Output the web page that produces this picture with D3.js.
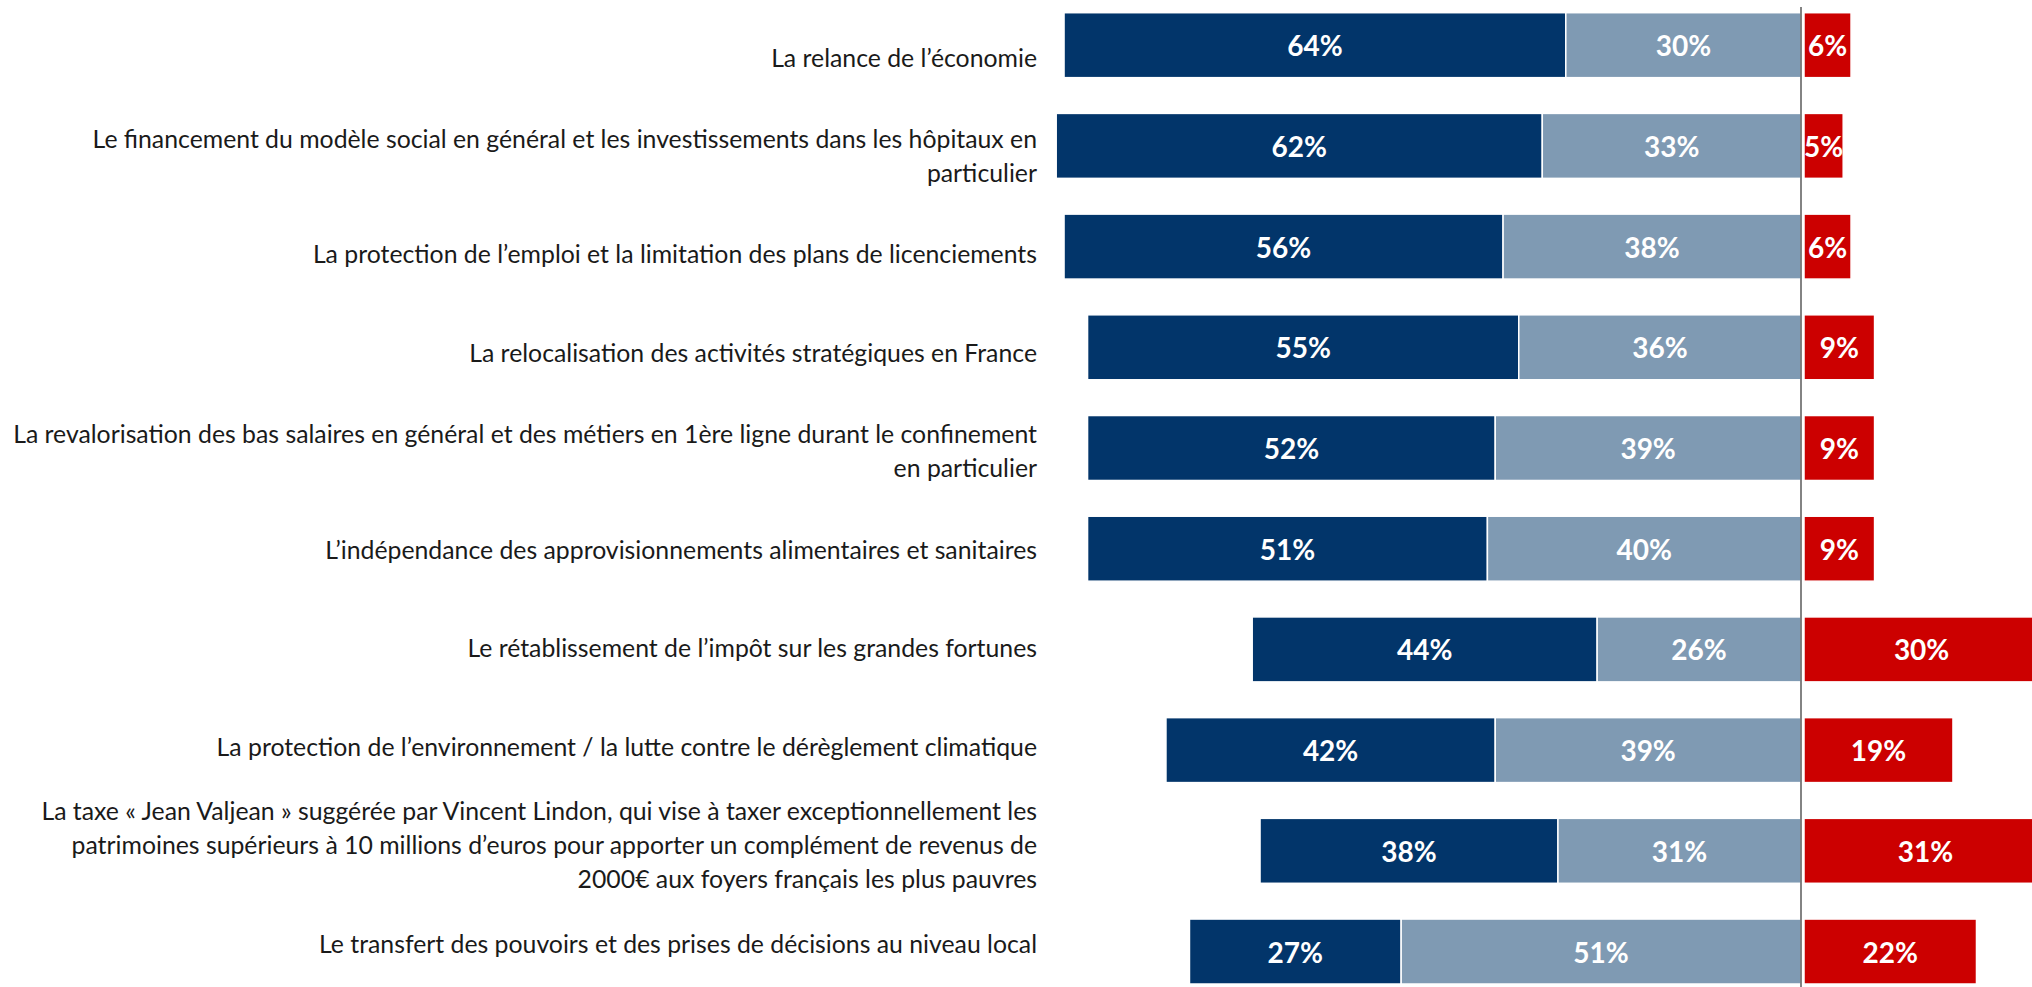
<!DOCTYPE html>
<html>
<head>
<meta charset="utf-8">
<style>
  body { margin: 0; background: #fff; }
  svg { display: block; }
  .label { font-family: Lato, "Open Sans", sans-serif; fill: #1a1a1a; }
  .pct { font-family: Lato, "Open Sans", sans-serif; font-weight: 700; fill: #fff; }
</style>
<script src="https://cdn.jsdelivr.net/npm/d3@7"></script>
</head>
<body>
<svg id="chart"></svg>
<script>
// categories, each split in its display lines
const categories = [
  ["La relance de l’économie"],
  ["Le financement du modèle social en général et les investissements dans les hôpitaux en", "particulier"],
  ["La protection de l’emploi et la limitation des plans de licenciements"],
  ["La relocalisation des activités stratégiques en France"],
  ["La revalorisation des bas salaires en général et des métiers en 1ère ligne durant le confinement", "en particulier"],
  ["L’indépendance des approvisionnements alimentaires et sanitaires"],
  ["Le rétablissement de l’impôt sur les grandes fortunes"],
  ["La protection de l’environnement / la lutte contre le dérèglement climatique"],
  ["La taxe « Jean Valjean » suggérée par Vincent Lindon, qui vise à taxer exceptionnellement les", "patrimoines supérieurs à 10 millions d’euros pour apporter un complément de revenus de", "2000€ aux foyers français les plus pauvres"],
  ["Le transfert des pouvoirs et des prises de décisions au niveau local"]
]
const prioritaire = [64, 62, 56, 55, 52, 51, 44, 42, 38, 27]
const secondaire = [30, 33, 38, 36, 39, 40, 26, 39, 31, 51]
const pasPrioritaire = [6, 5, 6, 9, 9, 9, 30, 19, 31, 22]

const colors = { prioritaire: "#02356a", secondaire: "#7f9ab3", pasPrioritaire: "#cc0000" }

const width = 2032, height = 987
const svg = d3.select("#chart").attr("width", width).attr("height", height)

const keys = categories.map((d, i) => i)

// the zero line sits at x=1801, left side holds the two "yes" parts
const x = d3.scaleLinear().domain([-100, 0]).range([1017, 1801])
const y = d3.scaleBand().domain(keys).range([12.7, 984]).paddingInner(0.355).paddingOuter(0)
// labels were laid out on their own, slightly tighter grid
const yLabel = d3.scalePoint().domain(keys).range([57, 943])

const rows = keys.map(i => ({
  i: i,
  lines: categories[i],
  a: prioritaire[i],
  b: secondaire[i],
  c: pasPrioritaire[i]
}))

const gap = 3
const segs = []
rows.forEach(r => {
  segs.push({ i: r.i, v: r.a, x0: x(-(r.a + r.b)), x1: x(-r.b), color: colors.prioritaire })
  segs.push({ i: r.i, v: r.b, x0: x(-r.b), x1: x(0), color: colors.secondaire })
  segs.push({ i: r.i, v: r.c, x0: x(0) + gap, x1: x(r.c) + gap, color: colors.pasPrioritaire })
})

const bars = svg.append("g")
bars.selectAll("rect")
  .data(segs)
  .enter().append("rect")
  .attr("x", d => d.x0)
  .attr("y", d => y(d.i))
  .attr("width", d => d.x1 - d.x0)
  .attr("height", y.bandwidth())
  .attr("fill", d => d.color)
  .attr("stroke", "#fff")
  .attr("stroke-width", 1.5)

bars.selectAll("text")
  .data(segs)
  .enter().append("text")
  .attr("class", "pct")
  .attr("x", d => (d.x0 + d.x1) / 2)
  .attr("y", d => y(d.i) + y.bandwidth() / 2)
  .attr("text-anchor", "middle")
  .attr("dominant-baseline", "central")
  .attr("font-size", 28)
  .text(d => d.v + "%")

// zero line
svg.append("line")
  .attr("x1", x(0)).attr("x2", x(0))
  .attr("y1", 7).attr("y2", height)
  .attr("stroke", "#5a5a5a")
  .attr("stroke-width", 1.5)

// category labels
const lineH = 33.7
const labels = svg.append("g")
rows.forEach(r => {
  const n = r.lines.length
  const t = labels.append("text")
    .attr("class", "label")
    .attr("text-anchor", "end")
    .attr("font-size", 24.8)
  r.lines.forEach((ln, k) => {
    t.append("tspan")
      .attr("x", 1037)
      .attr("y", yLabel(r.i) + (k - (n - 1) / 2) * lineH)
      .attr("dominant-baseline", "central")
      .text(ln)
  })
})
</script>
</body>
</html>
